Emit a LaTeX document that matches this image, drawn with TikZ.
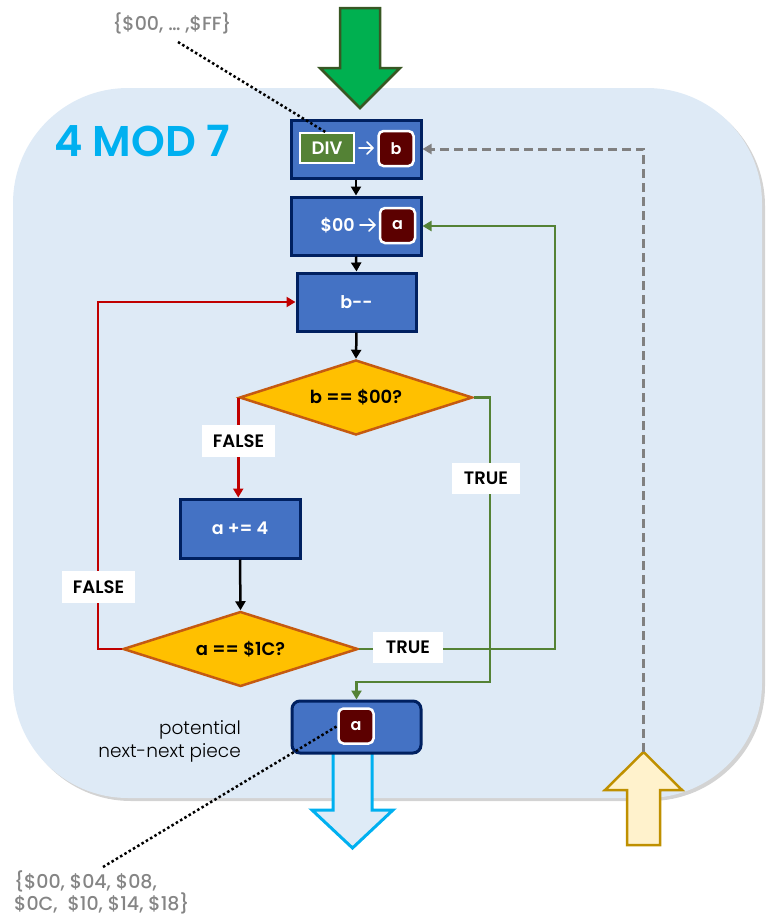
\documentclass[tikz,border=0pt]{standalone}
\usepackage{fontspec}
\setmainfont{Poppins}
\newfontfamily\pmed{Poppins Medium}
\newfontfamily\psemi{Poppins SemiBold}
\newfontfamily\plight{Poppins Light}
\usetikzlibrary{arrows.meta,shapes.geometric,shadows}
\definecolor{bgblue}{HTML}{DEEAF6}
\definecolor{boxblue}{HTML}{4472C4}
\definecolor{navy}{HTML}{002060}
\definecolor{decfill}{HTML}{FFC000}
\definecolor{decdraw}{HTML}{C55A11}
\definecolor{redline}{HTML}{C00000}
\definecolor{greenline}{HTML}{548235}
\definecolor{regred}{HTML}{5C0000}
\definecolor{graytext}{HTML}{858585}
\definecolor{grayline}{HTML}{808080}
\definecolor{titleblue}{HTML}{00B0F0}
\definecolor{bigGreen}{HTML}{00B050}
\definecolor{bigGreenDraw}{HTML}{385723}
\definecolor{yellowfill}{HTML}{FFF2CC}
\definecolor{yellowdraw}{HTML}{BF9000}
\definecolor{outfill}{HTML}{DEEBF7}
\newcommand{\fsz}[2]{\fontsize{#1}{#2}\selectfont}
\begin{document}
\begin{tikzpicture}[x=1pt,y=-1pt,
  box/.style={draw=navy, fill=boxblue, line width=3pt, inner sep=0pt, text=white, font=\fsz{17.5}{21}\psemi},
  dec/.style={diamond, draw=decdraw, fill=decfill, line width=2.5pt, aspect=3.1, inner sep=0pt, font=\fsz{18}{21}\psemi},
  reg/.style={rounded corners=5pt, draw=white, fill=regred, line width=2.5pt, minimum width=35pt, minimum height=35pt, inner sep=0pt, text=white, font=\fsz{16}{19}\psemi},
  lbl/.style={fill=white, inner sep=0pt, font=\fsz{18}{21}\psemi},
  conn/.style={line width=2.5pt, -{Triangle[length=9pt,width=10pt]}},
  dots/.style={line width=2.5pt, dash pattern=on 2.5pt off 2.5pt},
  gtext/.style={text=graytext, font=\fsz{19}{22}\pmed, inner sep=0pt}
]
\useasboundingbox (0,0) rectangle (775,924);
% background panel
\fill[bgblue, rounded corners=115pt, drop shadow={opacity=0.35, shadow xshift=3pt, shadow yshift=-3pt}] (13,88) rectangle (762,798);
\node[anchor=west, text=titleblue, font=\fsz{43}{48}\psemi, inner sep=0pt] (title) at (54,141) {4 MOD 7};

% big green input arrow
\draw[fill=bigGreen, draw=bigGreenDraw, line width=2.5pt, line join=miter]
  (340,8) -- (380,8) -- (380,68) -- (400,68) -- (360,108) -- (320,68) -- (340,68) -- cycle;

% output arrow (under the out box)
\draw[fill=outfill, draw=titleblue, line width=3pt, line join=miter]
  (333,752) -- (372,752) -- (372,810) -- (393,810) -- (352.5,848) -- (312,810) -- (333,810) -- cycle;

% yellow arrow
\draw[fill=yellowfill, draw=yellowdraw, line width=2.5pt, line join=miter]
  (627,845) -- (660,845) -- (660,790) -- (682,790) -- (643.5,752) -- (605,790) -- (627,790) -- cycle;
\coordinate (ytip) at (643.5,752);

% boxes
\node[box, minimum width=130pt, minimum height=58pt] (divbox) at (356,149) {};
\node[draw=white, fill=greenline, line width=2.5pt, minimum width=54pt, minimum height=30pt, inner sep=0pt, text=white, font=\fsz{18}{21}\psemi] (div) at (327,148) {DIV};
\node[reg] (rb) at (396,148.5) {b};
\coordinate (ar1s) at (359,148);
\coordinate (ar1e) at (373,148);
\draw[white, line width=1.6pt, line cap=round, line join=round] (ar1s) -- (ar1e) (367,142) -- (ar1e) -- (367,154);

\node[box, minimum width=130pt, minimum height=58pt] (zerobox) at (356,226) {};
\node[text=white, font=\fsz{17.5}{21}\psemi, inner sep=0pt, anchor=east] (zt) at (355,225) {\$00};
\node[reg] (ra) at (397.5,225.5) {a};
\coordinate (ar2e) at (375,225);
\draw[white, line width=1.6pt, line cap=round, line join=round] (360,225) -- (ar2e) (369,219) -- (ar2e) -- (369,231);

\node[box, minimum width=119pt, minimum height=58pt] (bdec) at (356.5,302) {b-{}-};
\node[dec, minimum width=233pt, minimum height=75pt] (d1) at (356,397.5) {b == \$00?};
\node[box, minimum width=120pt, minimum height=59pt] (adda) at (240,528.5) {a += 4};
\node[dec, minimum width=235pt, minimum height=75pt] (d2) at (240.5,649) {a == \$1C?};
\node[box, rounded corners=8pt, minimum width=129pt, minimum height=52pt] (outbox) at (356.5,727) {};
\node[reg] (ro) at (356,726) {a};

\node[anchor=east, align=right, inner sep=0pt, font=\fsz{18.5}{23}\plight] (pot) at (241,741) {potential\\next-next piece};

% connectors
\draw[conn] (divbox.south) -- (zerobox.north);
\draw[conn] (zerobox.south) -- (bdec.north);
\draw[conn] (bdec.south) -- (d1.north);
\draw[conn] (adda.south) -- (d2.north);
\draw[conn, redline] (d1.west) -- (d1.west |- adda.north);
\draw[conn, redline] (d2.west) -- (98,649) |- (bdec.west);
\draw[conn, greenline] (d2.east) -- (555,649) |- (zerobox.east);
\draw[conn, greenline] (d1.east) -- (490,397.5) -- (490,682) -| (outbox.north);
\draw[conn, grayline, line width=3pt, dash pattern=on 9pt off 5pt, -{Triangle[length=9pt,width=10pt]}] (ytip) |- (divbox.east);

% labels
\node[lbl, minimum width=73pt, minimum height=32pt] (f1) at (238.5,441) {FALSE};
\node[lbl, minimum width=73pt, minimum height=32pt] (f2) at (98.5,587) {FALSE};
\node[lbl, minimum width=70pt, minimum height=31pt] (t2) at (408,647.5) {TRUE};
\node[lbl, minimum width=68pt, minimum height=31pt] (t1) at (486,478.5) {TRUE};

% gray annotations
\node[gtext] (top) at (172,23) {\{\$00, … ,\$FF\}};
\coordinate (topend) at (327,133);
\draw[dots] (178,42) -- (topend);
\node[gtext, anchor=north west, align=left] (bot) at (14,871) {\{\$00, \$04, \$08,\\\$0C,\ \ \$10, \$14, \$18\}};
\draw[dots] (103,867) -- (ro.west);
\end{tikzpicture}
\end{document}
